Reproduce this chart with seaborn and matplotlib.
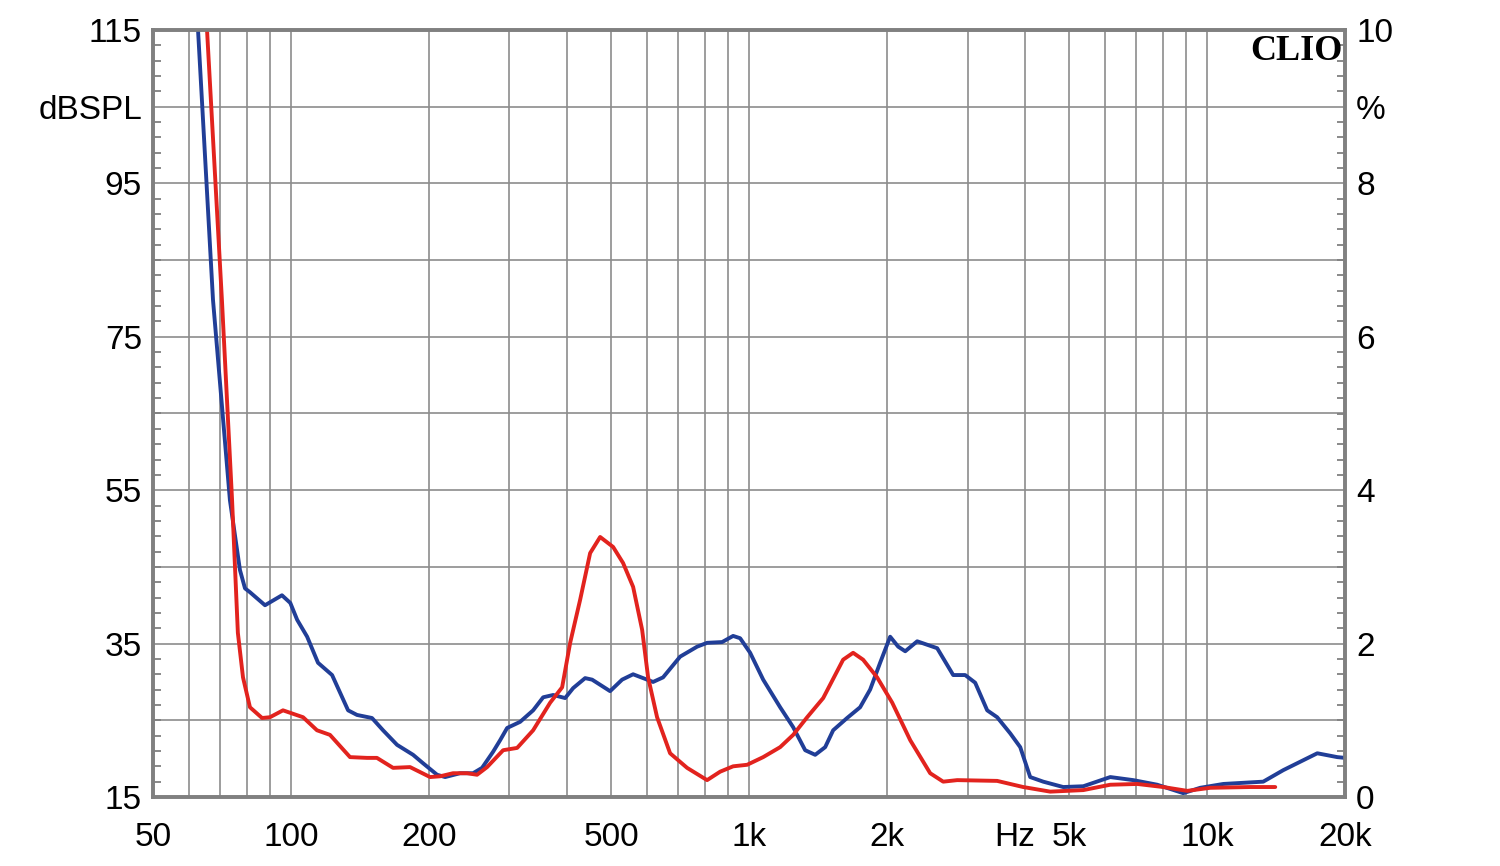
import matplotlib
matplotlib.use("Agg")
import matplotlib.pyplot as plt
import seaborn as sns
import pandas as pd

# ---------------- data (frequency in Hz, distortion in %) ----------------
blue_freq = [62.7, 67.6, 73.6, 77.4, 79.4, 81.4, 87.8, 95.6, 99.7, 103.2, 108.5, 114.6,
             123.0, 133.3, 139.4, 150.3, 158.9, 170.5, 184.8, 194.3, 208.5, 217.1, 234.0,
             249.8, 261.4, 276.3, 286.2, 296.5, 316.5, 337.9, 355.4, 373.7, 396.9, 413.2,
             438.8, 454.5, 497.5, 528.4, 558.5, 587.3, 617.5, 649.3, 707.4, 770.4, 810.1,
             873.7, 923.3, 956.4, 1005.8, 1073.9, 1169.5, 1248.6, 1326.2, 1394.7, 1466.5,
             1526.5, 1637.4, 1748, 1838.2, 1933, 2033, 2117, 2193, 2329, 2575, 2791, 2964,
             3117, 3311, 3481, 3717, 3909, 4110, 4388, 4852, 5367, 6146, 6899, 7782, 8871,
             9660, 10850, 13260, 14665, 17400, 19240, 20000]
blue_pct = [10.0, 6.48, 3.87, 2.96, 2.72, 2.67, 2.50, 2.63, 2.53, 2.31, 2.09, 1.75,
            1.59, 1.13, 1.07, 1.03, 0.87, 0.68, 0.55, 0.44, 0.29, 0.26, 0.31,
            0.31, 0.38, 0.59, 0.74, 0.90, 0.98, 1.13, 1.30, 1.33, 1.29, 1.42,
            1.55, 1.53, 1.38, 1.53, 1.60, 1.55, 1.50, 1.56, 1.83, 1.96, 2.01,
            2.02, 2.10, 2.07, 1.88, 1.53, 1.17, 0.91, 0.61, 0.55, 0.65,
            0.87, 1.03, 1.17, 1.40, 1.75, 2.09, 1.96, 1.90, 2.03, 1.94, 1.59, 1.59,
            1.49, 1.13, 1.04, 0.83, 0.65, 0.26, 0.20, 0.13, 0.14, 0.26, 0.22, 0.16, 0.05,
            0.12, 0.17, 0.20, 0.35, 0.57, 0.52, 0.51]

red_freq = [65.6, 70.7, 74.4, 75.5, 76.6, 78.6, 81.4, 86.5, 90.0, 96.1, 106.3, 114.0,
            121.7, 134.6, 146.6, 154.1, 167.1, 182.0, 201.3, 211.7, 225.9, 242.4, 254.9,
            268.1, 290.6, 311.8, 337.9, 368.1, 390.9, 407.0, 427.9, 450.0, 473.2, 505.1,
            531.1, 558.5, 584.4, 602.2, 630.0, 672.6, 732.6, 810.1, 864.9, 923.3, 990.7,
            1073.9, 1169.5, 1248.6, 1339.6, 1452, 1604.9, 1687.6, 1774.6, 1904, 2054, 2249,
            2486, 2654, 2848, 3481, 3968, 4545, 5367, 6146, 7040, 8020, 9052, 10160,
            12425, 14085]
red_pct = [10.0, 6.48, 3.87, 3.00, 2.14, 1.56, 1.17, 1.03, 1.04, 1.13, 1.04, 0.87,
           0.81, 0.52, 0.51, 0.51, 0.38, 0.39, 0.26, 0.27, 0.31, 0.31, 0.29,
           0.39, 0.61, 0.64, 0.87, 1.23, 1.43, 2.01, 2.57, 3.18, 3.39, 3.26,
           3.05, 2.74, 2.18, 1.56, 1.04, 0.57, 0.38, 0.22, 0.33, 0.40, 0.42,
           0.52, 0.65, 0.81, 1.04, 1.29, 1.79, 1.88, 1.79, 1.56, 1.23, 0.74,
           0.31, 0.20, 0.22, 0.21, 0.13, 0.07, 0.09, 0.16, 0.17, 0.13, 0.08, 0.12,
           0.13, 0.13]

x_tick_values = [50, 100, 200, 500, 1000, 2000, 3800, 5000, 10000, 20000]
x_tick_labels = ["50", "100", "200", "500", "1k", "2k", "Hz", "5k", "10k", "20k"]
left_tick_values = [15, 35, 55, 75, 95, 105, 115]
left_tick_labels = ["15", "35", "55", "75", "95", "dBSPL", "115"]
right_tick_values = [0, 2, 4, 6, 8, 9, 10]
right_tick_labels = ["0", "2", "4", "6", "8", "%", "10"]
grid_freqs = [60, 70, 80, 90, 100, 200, 300, 400, 500, 600, 700, 800, 900,
              1000, 2000, 3000, 4000, 5000, 6000, 7000, 8000, 9000, 10000]
grid_db = [25, 35, 45, 55, 65, 75, 85, 95, 105]
minor_db = [v for v in range(17, 115, 2)]
minor_pct = [round(v * 0.2, 1) for v in range(1, 50)]

BLUE = "#213E97"
RED = "#E2231E"
GRID = "#8c8c8c"
SPINE = "#808080"

sns.set_theme(style="white")
plt.rcParams["font.family"] = ["Liberation Sans", "DejaVu Sans"]

fig = plt.figure(figsize=(15, 8.66), dpi=100)
ax = fig.add_axes([153 / 1500, 1 - 797 / 866, (1345 - 153) / 1500, (797 - 30) / 866])
ax.set_xscale("log")
ax.set_xlim(50, 20000)
ax.set_ylim(15, 115)

for f in grid_freqs:
    ax.axvline(f, color=GRID, lw=1.2, zorder=0)
for d in grid_db:
    ax.axhline(d, color=GRID, lw=1.2, zorder=0)

ax.set_xticks(x_tick_values)
ax.set_xticklabels(x_tick_labels)
ax.xaxis.set_minor_locator(matplotlib.ticker.NullLocator())
ax.set_yticks(left_tick_values)
ax.set_yticklabels(left_tick_labels)
ax.set_yticks(minor_db, minor=True)
ax.tick_params(axis="x", which="major", length=0, pad=18, labelsize=24, colors="black")
ax.tick_params(axis="y", which="major", length=0, pad=8, labelsize=24, colors="black")
ax.tick_params(axis="y", which="minor", direction="in", length=5.5, width=1.3, color=SPINE, left=True)

ax2 = ax.twinx()
ax2.set_ylim(0, 10)
ax2.set_yticks(right_tick_values)
ax2.set_yticklabels(right_tick_labels)
ax2.set_yticks(minor_pct, minor=True)
ax2.tick_params(axis="y", which="major", length=0, pad=8, labelsize=24, colors="black")
ax2.tick_params(axis="y", which="minor", direction="in", length=5.5, width=1.3, color=SPINE, right=True)

df_blue = pd.DataFrame({"freq": blue_freq, "pct": blue_pct})
df_red = pd.DataFrame({"freq": red_freq, "pct": red_pct})
sns.lineplot(data=df_blue, x="freq", y="pct", ax=ax2, color=BLUE, lw=2.8, estimator=None)
sns.lineplot(data=df_red, x="freq", y="pct", ax=ax2, color=RED, lw=2.8, estimator=None)
ax2.set_ylabel("")
ax2.set_xlabel("")
ax.set_xlabel("")
ax.set_ylabel("")

for a in (ax, ax2):
    for s in a.spines.values():
        s.set_color(SPINE)
        s.set_linewidth(2.6)
        s.set_zorder(10)

ax2.text(0.998, 0.993, "CLIO", transform=ax.transAxes, ha="right", va="top",
         fontsize=26, fontweight="bold", family="Liberation Serif", color="black", zorder=11)

fig.savefig("out.png", dpi=100, facecolor="white")
